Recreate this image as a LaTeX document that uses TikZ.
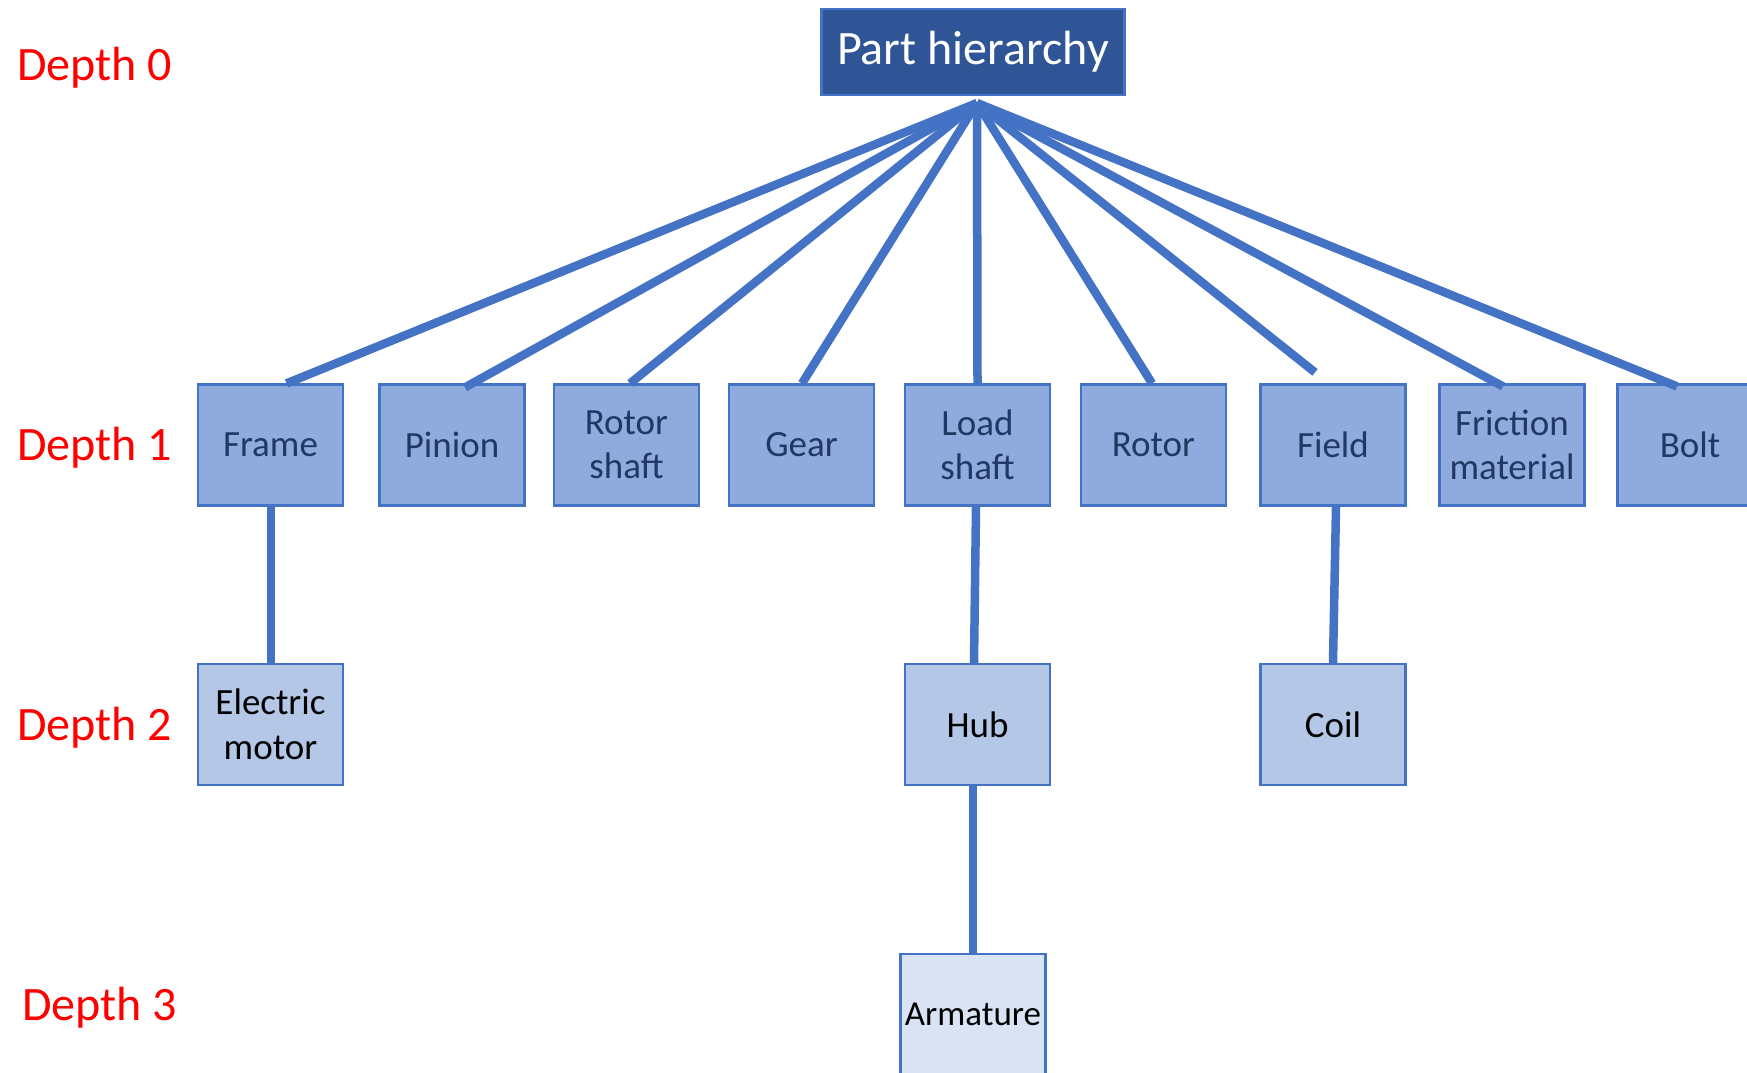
\documentclass[tikz,border=0pt]{standalone}
\usepackage{fontspec}
\setmainfont{Carlito}
\usetikzlibrary{calc}
\definecolor{linkblue}{HTML}{4472C4}
\definecolor{rootfill}{HTML}{2F5597}
\definecolor{lvlone}{HTML}{8FAADC}
\definecolor{lvltwo}{HTML}{B4C7E7}
\definecolor{lvlthree}{HTML}{DAE3F3}
\definecolor{navytext}{HTML}{203864}
\definecolor{depthred}{HTML}{FF0000}
\tikzset{
  box/.style={draw=linkblue, line width=2.2pt, minimum width=145pt, minimum height=121pt,
    inner sep=0pt, align=center, font=\fontsize{37}{44.5}\selectfont},
  rootbox/.style={draw=linkblue, fill=rootfill, line width=2.5pt, minimum width=303pt,
    minimum height=86pt, inner sep=0pt, text=white, font=\fontsize{48}{56}\selectfont},
  levelone/.style={box, fill=lvlone, text=navytext},
  leveltwo/.style={box, fill=lvltwo, text=black},
  levelthree/.style={box, fill=lvlthree, text=black, font=\fontsize{35}{42}\selectfont},
  depthlabel/.style={anchor=west, inner sep=0pt, text=depthred, font=\fontsize{48}{56}\selectfont},
  link/.style={draw=linkblue, line width=8.5pt, line cap=butt},
}
\begin{document}
\begin{tikzpicture}[x=1pt, y=-1pt]
  \useasboundingbox (0,0) rectangle (1747,1072);
  \clip (0,0) rectangle (1747,1072);
  \fill[white] (0,0) rectangle (1747,1072);

  % depth labels
  \node[depthlabel] (d0) at (17,68) {Depth 0};
  \node[depthlabel] (d1) at (17,448) {Depth 1};
  \node[depthlabel] (d2) at (17,728) {Depth 2};
  \node[depthlabel] (d3) at (22,1008) {Depth 3};

  % root
  \node[rootbox] (root) at (973,52) {\raisebox{-3pt}{Part hierarchy}};
  \coordinate (fan) at (977,103);

  % depth 1
  \node[levelone] (frame)    at (270.5,445) {Frame};
  \node[levelone] (pinion)   at (452,445)   {Pinion};
  \node[levelone] (rshaft)   at (626.5,445) {Rotor\\shaft};
  \node[levelone] (gear)     at (801.5,445) {Gear};
  \node[levelone] (lshaft)   at (977.5,445) {Load\\shaft};
  \node[levelone] (rotor)    at (1153.5,445){Rotor};
  \node[levelone] (field)    at (1333,445)  {Field};
  \node[levelone] (friction) at (1512,445)  {Friction\\material};
  \node[levelone] (bolt)     at (1690,445)  {Bolt};

  % depth 2
  \node[leveltwo] (motor) at (270.5,724.5) {Electric\\motor};
  \node[leveltwo] (hub)   at (977.5,724.5) {Hub};
  \node[leveltwo] (coil)  at (1333,724.5)  {Coil};

  % depth 3
  \node[levelthree] (armature) at (973,1014.5) {Armature};

  % fan of links from the root
  \draw[link] (fan) -- ($(frame.north)+(16,0)$);
  \draw[link] (fan) -- ($(pinion.north)+(13,4)$);
  \draw[link] (fan) -- ($(rshaft.north)+(3.5,0)$);
  \draw[link] (fan) -- ($(gear.north)+(0.5,0)$);
  \draw[link] (fan) -- (lshaft.north);
  \draw[link] (fan) -- ($(rotor.north)+(-1.5,0)$);
  \draw[link] (fan) -- ($(field.north)+(-18,-11)$);
  \draw[link] (fan) -- ($(friction.north)+(-9,3)$);
  \draw[link] (fan) -- ($(bolt.north)+(-13,3)$);

  % lower links
  \draw[link] ($(frame.south)+(0.5,0)$) -- ($(motor.north)+(0.5,0)$);
  \draw[link] ($(lshaft.south)+(-1.5,0)$) -- ($(hub.north)+(-3.5,0)$);
  \draw[link] ($(field.south)+(3,0)$) -- (coil.north);
  \draw[link] ($(hub.south)+(-4.5,0)$) -- (armature.north);
\end{tikzpicture}
\end{document}
